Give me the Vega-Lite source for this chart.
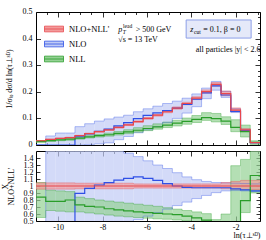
{
  "$schema": "https://vega.github.io/schema/vega-lite/v6.json",
  "padding": {"left": 0, "top": 7, "right": 9, "bottom": 0},
  "spacing": 0,
  "config": {
    "font": "Liberation Serif",
    "view": {"stroke": "#000", "strokeWidth": 1},
    "axis": {"labelFont": "Liberation Serif", "labelFontSize": 8, "labelColor": "#000", "tickColor": "#000", "tickWidth": 0.8, "domain": false, "grid": false, "titleFont": "Liberation Serif", "titleFontSize": 8, "titleFontWeight": "normal", "titleColor": "#000", "labelOverlap": false, "labelFlush": false},
    "text": {"font": "Liberation Serif", "color": "#000"}
  },
  "data": {"values": [
    {"s":"NLO","b":0,"x0":-11,"x1":-10.5609,"c":0,"lo":0,"hi":0,"rc":0.2,"rlo":0.2,"rhi":0.2},
    {"s":"NLO","b":1,"x0":-10.5609,"x1":-10.1217,"c":0,"lo":-0.03,"hi":0.034,"rc":0.2,"rlo":0.2,"rhi":1.7},
    {"s":"NLO","b":2,"x0":-10.1217,"x1":-9.6826,"c":0,"lo":-0.03,"hi":0.045,"rc":0.2,"rlo":0.2,"rhi":1.7},
    {"s":"NLO","b":3,"x0":-9.6826,"x1":-9.2435,"c":0,"lo":-0.03,"hi":0.045,"rc":0.2,"rlo":0.2,"rhi":1.7},
    {"s":"NLO","b":4,"x0":-9.2435,"x1":-8.8043,"c":0.031,"lo":0,"hi":0.069,"rc":0.895,"rlo":0.2,"rhi":1.7},
    {"s":"NLO","b":5,"x0":-8.8043,"x1":-8.3652,"c":0.042,"lo":0.002,"hi":0.08,"rc":0.966,"rlo":0.2,"rhi":1.7},
    {"s":"NLO","b":6,"x0":-8.3652,"x1":-7.9261,"c":0.051,"lo":0.004,"hi":0.09,"rc":1.014,"rlo":0.2,"rhi":1.7},
    {"s":"NLO","b":7,"x0":-7.9261,"x1":-7.487,"c":0.06,"lo":0.008,"hi":0.098,"rc":1.047,"rlo":0.2,"rhi":1.7},
    {"s":"NLO","b":8,"x0":-7.487,"x1":-7.0478,"c":0.072,"lo":0.02,"hi":0.105,"rc":1.085,"rlo":0.2,"rhi":1.7},
    {"s":"NLO","b":9,"x0":-7.0478,"x1":-6.6087,"c":0.084,"lo":0.032,"hi":0.112,"rc":1.108,"rlo":0.2,"rhi":1.47},
    {"s":"NLO","b":10,"x0":-6.6087,"x1":-6.1696,"c":0.099,"lo":0.046,"hi":0.125,"rc":1.13,"rlo":0.52,"rhi":1.42},
    {"s":"NLO","b":11,"x0":-6.1696,"x1":-5.7304,"c":0.111,"lo":0.057,"hi":0.136,"rc":1.11,"rlo":0.57,"rhi":1.36},
    {"s":"NLO","b":12,"x0":-5.7304,"x1":-5.2913,"c":0.121,"lo":0.069,"hi":0.146,"rc":1.08,"rlo":0.62,"rhi":1.3},
    {"s":"NLO","b":13,"x0":-5.2913,"x1":-4.8522,"c":0.129,"lo":0.084,"hi":0.156,"rc":1.035,"rlo":0.67,"rhi":1.25},
    {"s":"NLO","b":14,"x0":-4.8522,"x1":-4.413,"c":0.139,"lo":0.1,"hi":0.165,"rc":1.0,"rlo":0.72,"rhi":1.19},
    {"s":"NLO","b":15,"x0":-4.413,"x1":-3.9739,"c":0.153,"lo":0.12,"hi":0.176,"rc":0.98,"rlo":0.77,"rhi":1.13},
    {"s":"NLO","b":16,"x0":-3.9739,"x1":-3.5348,"c":0.172,"lo":0.144,"hi":0.192,"rc":0.975,"rlo":0.82,"rhi":1.09},
    {"s":"NLO","b":17,"x0":-3.5348,"x1":-3.0957,"c":0.196,"lo":0.174,"hi":0.214,"rc":0.975,"rlo":0.865,"rhi":1.065},
    {"s":"NLO","b":18,"x0":-3.0957,"x1":-2.6565,"c":0.222,"lo":0.206,"hi":0.239,"rc":0.975,"rlo":0.905,"rhi":1.05},
    {"s":"NLO","b":19,"x0":-2.6565,"x1":-2.2174,"c":0.188,"lo":0.179,"hi":0.202,"rc":0.975,"rlo":0.93,"rhi":1.045},
    {"s":"NLO","b":20,"x0":-2.2174,"x1":-1.7783,"c":0.126,"lo":0.122,"hi":0.136,"rc":0.96,"rlo":0.935,"rhi":1.04},
    {"s":"NLO","b":21,"x0":-1.7783,"x1":-1.3391,"c":0.054,"lo":0.053,"hi":0.059,"rc":0.945,"rlo":0.93,"rhi":1.035},
    {"s":"NLO","b":22,"x0":-1.3391,"x1":-0.9,"c":0.0084,"lo":0.0083,"hi":0.0092,"rc":0.93,"rlo":0.92,"rhi":1.03},
    {"s":"NLL","b":0,"x0":-11,"x1":-10.5609,"c":0.0134,"lo":0.0088,"hi":0.0168,"rc":0.84,"rlo":0.55,"rhi":1.05},
    {"s":"NLL","b":1,"x0":-10.5609,"x1":-10.1217,"c":0.0164,"lo":0.0137,"hi":0.0197,"rc":0.78,"rlo":0.65,"rhi":0.94},
    {"s":"NLL","b":2,"x0":-10.1217,"x1":-9.6826,"c":0.0195,"lo":0.016,"hi":0.0233,"rc":0.78,"rlo":0.64,"rhi":0.93},
    {"s":"NLL","b":3,"x0":-9.6826,"x1":-9.2435,"c":0.0224,"lo":0.0176,"hi":0.0258,"rc":0.8,"rlo":0.63,"rhi":0.92},
    {"s":"NLL","b":4,"x0":-9.2435,"x1":-8.8043,"c":0.0256,"lo":0.022,"hi":0.0294,"rc":0.73,"rlo":0.63,"rhi":0.84},
    {"s":"NLL","b":5,"x0":-8.8043,"x1":-8.3652,"c":0.0305,"lo":0.0264,"hi":0.0353,"rc":0.71,"rlo":0.615,"rhi":0.82},
    {"s":"NLL","b":6,"x0":-8.3652,"x1":-7.9261,"c":0.035,"lo":0.03,"hi":0.04,"rc":0.7,"rlo":0.6,"rhi":0.8},
    {"s":"NLL","b":7,"x0":-7.9261,"x1":-7.487,"c":0.0385,"lo":0.0333,"hi":0.0447,"rc":0.675,"rlo":0.585,"rhi":0.785},
    {"s":"NLL","b":8,"x0":-7.487,"x1":-7.0478,"c":0.0436,"lo":0.0376,"hi":0.0508,"rc":0.66,"rlo":0.57,"rhi":0.77},
    {"s":"NLL","b":9,"x0":-7.0478,"x1":-6.6087,"c":0.049,"lo":0.0426,"hi":0.0574,"rc":0.645,"rlo":0.56,"rhi":0.755},
    {"s":"NLL","b":10,"x0":-6.6087,"x1":-6.1696,"c":0.0554,"lo":0.0484,"hi":0.0651,"rc":0.63,"rlo":0.55,"rhi":0.74},
    {"s":"NLL","b":11,"x0":-6.1696,"x1":-5.7304,"c":0.062,"lo":0.054,"hi":0.0725,"rc":0.62,"rlo":0.54,"rhi":0.725},
    {"s":"NLL","b":12,"x0":-5.7304,"x1":-5.2913,"c":0.068,"lo":0.0594,"hi":0.0795,"rc":0.61,"rlo":0.53,"rhi":0.71},
    {"s":"NLL","b":13,"x0":-5.2913,"x1":-4.8522,"c":0.075,"lo":0.0656,"hi":0.0863,"rc":0.6,"rlo":0.525,"rhi":0.69},
    {"s":"NLL","b":14,"x0":-4.8522,"x1":-4.413,"c":0.082,"lo":0.0716,"hi":0.0931,"rc":0.59,"rlo":0.515,"rhi":0.67},
    {"s":"NLL","b":15,"x0":-4.413,"x1":-3.9739,"c":0.089,"lo":0.078,"hi":0.1014,"rc":0.57,"rlo":0.5,"rhi":0.65},
    {"s":"NLL","b":16,"x0":-3.9739,"x1":-3.5348,"c":0.096,"lo":0.0845,"hi":0.1109,"rc":0.545,"rlo":0.48,"rhi":0.63},
    {"s":"NLL","b":17,"x0":-3.5348,"x1":-3.0957,"c":0.103,"lo":0.0925,"hi":0.1216,"rc":0.512,"rlo":0.46,"rhi":0.605},
    {"s":"NLL","b":18,"x0":-3.0957,"x1":-2.6565,"c":0.099,"lo":0.0866,"hi":0.1186,"rc":0.45,"rlo":0.38,"rhi":0.52},
    {"s":"NLL","b":19,"x0":-2.6565,"x1":-2.2174,"c":0.09,"lo":0.0772,"hi":0.1062,"rc":0.46,"rlo":0.4,"rhi":0.6},
    {"s":"NLL","b":20,"x0":-2.2174,"x1":-1.7783,"c":0.066,"lo":0.05,"hi":0.095,"rc":0.48,"rlo":0.35,"rhi":1.29},
    {"s":"NLL","b":21,"x0":-1.7783,"x1":-1.3391,"c":0.05,"lo":0.03,"hi":0.075,"rc":0.79,"rlo":0.62,"rhi":1.38},
    {"s":"NLL","b":22,"x0":-1.3391,"x1":-0.9,"c":0.0095,"lo":0.002,"hi":0.016,"rc":1.15,"rlo":0.9,"rhi":1.7},
    {"s":"NLO+NLL'","b":0,"x0":-11,"x1":-10.5609,"c":0.016,"lo":0.0153,"hi":0.0167,"rc":1,"rlo":0.955,"rhi":1.045},
    {"s":"NLO+NLL'","b":1,"x0":-10.5609,"x1":-10.1217,"c":0.021,"lo":0.0201,"hi":0.0219,"rc":1,"rlo":0.955,"rhi":1.045},
    {"s":"NLO+NLL'","b":2,"x0":-10.1217,"x1":-9.6826,"c":0.025,"lo":0.0239,"hi":0.0261,"rc":1,"rlo":0.955,"rhi":1.045},
    {"s":"NLO+NLL'","b":3,"x0":-9.6826,"x1":-9.2435,"c":0.028,"lo":0.0267,"hi":0.0293,"rc":1,"rlo":0.955,"rhi":1.045},
    {"s":"NLO+NLL'","b":4,"x0":-9.2435,"x1":-8.8043,"c":0.035,"lo":0.0336,"hi":0.0364,"rc":1,"rlo":0.96,"rhi":1.04},
    {"s":"NLO+NLL'","b":5,"x0":-8.8043,"x1":-8.3652,"c":0.043,"lo":0.0413,"hi":0.0447,"rc":1,"rlo":0.96,"rhi":1.04},
    {"s":"NLO+NLL'","b":6,"x0":-8.3652,"x1":-7.9261,"c":0.05,"lo":0.048,"hi":0.052,"rc":1,"rlo":0.96,"rhi":1.04},
    {"s":"NLO+NLL'","b":7,"x0":-7.9261,"x1":-7.487,"c":0.057,"lo":0.0547,"hi":0.0593,"rc":1,"rlo":0.96,"rhi":1.04},
    {"s":"NLO+NLL'","b":8,"x0":-7.487,"x1":-7.0478,"c":0.066,"lo":0.0634,"hi":0.0686,"rc":1,"rlo":0.96,"rhi":1.04},
    {"s":"NLO+NLL'","b":9,"x0":-7.0478,"x1":-6.6087,"c":0.076,"lo":0.073,"hi":0.079,"rc":1,"rlo":0.96,"rhi":1.04},
    {"s":"NLO+NLL'","b":10,"x0":-6.6087,"x1":-6.1696,"c":0.088,"lo":0.0854,"hi":0.0906,"rc":1,"rlo":0.97,"rhi":1.03},
    {"s":"NLO+NLL'","b":11,"x0":-6.1696,"x1":-5.7304,"c":0.1,"lo":0.097,"hi":0.103,"rc":1,"rlo":0.97,"rhi":1.03},
    {"s":"NLO+NLL'","b":12,"x0":-5.7304,"x1":-5.2913,"c":0.112,"lo":0.1086,"hi":0.1154,"rc":1,"rlo":0.97,"rhi":1.03},
    {"s":"NLO+NLL'","b":13,"x0":-5.2913,"x1":-4.8522,"c":0.125,"lo":0.1213,"hi":0.1288,"rc":1,"rlo":0.97,"rhi":1.03},
    {"s":"NLO+NLL'","b":14,"x0":-4.8522,"x1":-4.413,"c":0.139,"lo":0.1348,"hi":0.1432,"rc":1,"rlo":0.97,"rhi":1.03},
    {"s":"NLO+NLL'","b":15,"x0":-4.413,"x1":-3.9739,"c":0.156,"lo":0.1513,"hi":0.1607,"rc":1,"rlo":0.97,"rhi":1.03},
    {"s":"NLO+NLL'","b":16,"x0":-3.9739,"x1":-3.5348,"c":0.176,"lo":0.1707,"hi":0.1813,"rc":1,"rlo":0.97,"rhi":1.03},
    {"s":"NLO+NLL'","b":17,"x0":-3.5348,"x1":-3.0957,"c":0.201,"lo":0.195,"hi":0.207,"rc":1,"rlo":0.97,"rhi":1.03},
    {"s":"NLO+NLL'","b":18,"x0":-3.0957,"x1":-2.6565,"c":0.228,"lo":0.2212,"hi":0.2348,"rc":1,"rlo":0.97,"rhi":1.03},
    {"s":"NLO+NLL'","b":19,"x0":-2.6565,"x1":-2.2174,"c":0.193,"lo":0.1853,"hi":0.2027,"rc":1,"rlo":0.96,"rhi":1.05},
    {"s":"NLO+NLL'","b":20,"x0":-2.2174,"x1":-1.7783,"c":0.131,"lo":0.1251,"hi":0.1395,"rc":1,"rlo":0.955,"rhi":1.065},
    {"s":"NLO+NLL'","b":21,"x0":-1.7783,"x1":-1.3391,"c":0.057,"lo":0.0542,"hi":0.0616,"rc":1,"rlo":0.95,"rhi":1.08},
    {"s":"NLO+NLL'","b":22,"x0":-1.3391,"x1":-0.9,"c":0.009,"lo":0.0086,"hi":0.0097,"rc":1,"rlo":0.95,"rhi":1.08}
  ]},
  "vconcat": [
    {
      "width": 224, "height": 133,
      "resolve": {"axis": {"x": "independent", "y": "independent"}},
      "layer": [
        {
          "resolve": {"axis": {"x": "independent", "y": "independent"}},
          "layer": [
            {
              "mark": {"type": "rect", "clip": true, "fillOpacity": 0.7, "strokeWidth": 0},
              "encoding": {
                "x": {"field": "x0", "type": "quantitative", "scale": {"domain": [-11, -0.9], "nice": false, "zero": false},
                      "axis": {"orient": "bottom", "values": [-10.5,-10,-9.5,-9,-8.5,-8,-7.5,-7,-6.5,-6,-5.5,-5,-4.5,-4,-3.5,-3,-2.5,-2,-1.5,-1], "labels": false, "title": null,
                               "tickSize": {"condition": {"test": "abs(datum.value/2 - round(datum.value/2)) < 0.001", "value": -5}, "value": -2.5}}},
                "x2": {"field": "x1"},
                "y": {"field": "lo", "type": "quantitative", "scale": {"domain": [0, 0.5], "nice": false, "zero": false},
                      "axis": {"orient": "right", "values": [0,0.02,0.04,0.06,0.08,0.1,0.12,0.14,0.16,0.18,0.2,0.22,0.24,0.26,0.28,0.3,0.32,0.34,0.36,0.38,0.4,0.42,0.44,0.46,0.48,0.5], "labels": false, "title": null,
                               "tickSize": {"condition": {"test": "abs(datum.value*10 - round(datum.value*10)) < 0.001", "value": -5}, "value": -2.5}}},
                "y2": {"field": "hi"},
                "fill": {"field": "s", "type": "nominal", "scale": {"domain": ["NLO+NLL'", "NLO", "NLL"], "range": ["#f29b9b", "#c0cbf5", "#94d194"]},
                         "legend": {"title": null, "orient": "none", "legendX": 8, "legendY": 7, "symbolType": "M-1,-0.3H1V0.3H-1Z M-1,0H1", "symbolSize": 361, "labelFontSize": 8.5, "labelFont": "Liberation Serif", "labelOffset": 5, "rowPadding": -2.5, "symbolStrokeWidth": 0.8}}
              }
            },
            {
              "transform": [{"fold": ["x0", "x1"], "as": ["edge", "xe"]}],
              "mark": {"type": "line", "clip": true, "strokeWidth": 0.8, "strokeOpacity": 0.45},
              "encoding": {
                "x": {"field": "xe", "type": "quantitative", "scale": {"domain": [-11, -0.9], "nice": false, "zero": false}, "axis": null},
                "y": {"field": "hi", "type": "quantitative", "scale": {"domain": [0, 0.5], "nice": false, "zero": false}, "axis": null},
                "stroke": {"field": "s", "type": "nominal", "scale": {"domain": ["NLO+NLL'", "NLO", "NLL"], "range": ["#e8474d", "#2f50e6", "#2a9d2a"]},
                           "legend": {"title": null, "orient": "none", "legendX": 8, "legendY": 7, "symbolType": "M-1,-0.3H1V0.3H-1Z M-1,0H1", "symbolSize": 361, "labelFontSize": 8.5, "labelFont": "Liberation Serif", "labelOffset": 5, "rowPadding": -2.5, "symbolStrokeWidth": 0.8}},
                "order": [{"field": "b", "type": "quantitative"}, {"field": "edge", "type": "nominal"}]
              }
            },
            {
              "transform": [{"fold": ["x0", "x1"], "as": ["edge", "xe"]}],
              "mark": {"type": "line", "clip": true, "strokeWidth": 0.8, "strokeOpacity": 0.45},
              "encoding": {
                "x": {"field": "xe", "type": "quantitative", "scale": {"domain": [-11, -0.9], "nice": false, "zero": false}, "axis": null},
                "y": {"field": "lo", "type": "quantitative", "scale": {"domain": [0, 0.5], "nice": false, "zero": false}, "axis": null},
                "stroke": {"field": "s", "type": "nominal", "scale": {"domain": ["NLO+NLL'", "NLO", "NLL"], "range": ["#e8474d", "#2f50e6", "#2a9d2a"]},
                           "legend": {"title": null, "orient": "none", "legendX": 8, "legendY": 7, "symbolType": "M-1,-0.3H1V0.3H-1Z M-1,0H1", "symbolSize": 361, "labelFontSize": 8.5, "labelFont": "Liberation Serif", "labelOffset": 5, "rowPadding": -2.5, "symbolStrokeWidth": 0.8}},
                "order": [{"field": "b", "type": "quantitative"}, {"field": "edge", "type": "nominal"}]
              }
            },
            {
              "transform": [{"fold": ["x0", "x1"], "as": ["edge", "xe"]}],
              "mark": {"type": "line", "clip": true, "strokeWidth": 1.2},
              "encoding": {
                "x": {"field": "xe", "type": "quantitative", "scale": {"domain": [-11, -0.9], "nice": false, "zero": false},
                      "axis": {"orient": "top", "values": [-10.5,-10,-9.5,-9,-8.5,-8,-7.5,-7,-6.5,-6,-5.5,-5,-4.5,-4,-3.5,-3,-2.5,-2,-1.5,-1], "labels": false, "title": null,
                               "tickSize": {"condition": {"test": "abs(datum.value/2 - round(datum.value/2)) < 0.001", "value": -5}, "value": -2.5}}},
                "y": {"field": "c", "type": "quantitative", "scale": {"domain": [0, 0.5], "nice": false, "zero": false},
                      "axis": {"orient": "left", "values": [0, 0.1, 0.2, 0.3, 0.4, 0.5], "labels": false, "tickSize": -4.5,
                               "title": "1/σₗₒ dσ/d ln(τ⊥ˢᴰ)", "titleX": -23}},
                "stroke": {"field": "s", "type": "nominal", "scale": {"domain": ["NLO+NLL'", "NLO", "NLL"], "range": ["#e8474d", "#2f50e6", "#2a9d2a"]},
                           "legend": {"title": null, "orient": "none", "legendX": 8, "legendY": 7, "symbolType": "M-1,-0.3H1V0.3H-1Z M-1,0H1", "symbolSize": 361, "labelFontSize": 8.5, "labelFont": "Liberation Serif", "labelOffset": 5, "rowPadding": -2.5, "symbolStrokeWidth": 0.8}},
                "order": [{"field": "b", "type": "quantitative"}, {"field": "edge", "type": "nominal"}]
              }
            }
          ]
        },
        {
          "layer": [
            {
              "data": {"values": [{"v": 0}, {"v": 0.1}, {"v": 0.2}, {"v": 0.3}, {"v": 0.4}, {"v": 0.5}]},
              "mark": {"type": "text", "align": "right", "baseline": "middle", "fontSize": 8, "dx": -3.5},
              "encoding": {"x": {"datum": -11, "type": "quantitative", "axis": null}, "y": {"field": "v", "type": "quantitative", "axis": null}, "text": {"field": "v", "type": "quantitative", "format": ".1~f"}}
            },
            {
              "data": {"values": [{"t": "p"}]},
              "mark": {"type": "text", "align": "left", "baseline": "alphabetic", "fontSize": 8, "fontStyle": "italic"},
              "encoding": {"x": {"datum": -7.29, "type": "quantitative", "axis": null}, "y": {"datum": 0.425, "type": "quantitative", "axis": null}, "text": {"field": "t"}}
            },
            {
              "data": {"values": [{"t": "lead"}]},
              "mark": {"type": "text", "align": "left", "baseline": "alphabetic", "fontSize": 5.5, "dx": 4.8, "dy": -4},
              "encoding": {"x": {"datum": -7.29, "type": "quantitative", "axis": null}, "y": {"datum": 0.425, "type": "quantitative", "axis": null}, "text": {"field": "t"}}
            },
            {
              "data": {"values": [{"t": "T"}]},
              "mark": {"type": "text", "align": "left", "baseline": "alphabetic", "fontSize": 5.5, "fontStyle": "italic", "dx": 4.5, "dy": 2},
              "encoding": {"x": {"datum": -7.29, "type": "quantitative", "axis": null}, "y": {"datum": 0.425, "type": "quantitative", "axis": null}, "text": {"field": "t"}}
            },
            {
              "data": {"values": [{"t": "> 500 GeV"}]},
              "mark": {"type": "text", "align": "left", "baseline": "alphabetic", "fontSize": 8, "dx": 17.5},
              "encoding": {"x": {"datum": -7.29, "type": "quantitative", "axis": null}, "y": {"datum": 0.425, "type": "quantitative", "axis": null}, "text": {"field": "t"}}
            },
            {
              "data": {"values": [{"t": "√s = 13 TeV"}]},
              "mark": {"type": "text", "align": "left", "baseline": "alphabetic", "fontSize": 8},
              "encoding": {"x": {"datum": -7.29, "type": "quantitative", "axis": null}, "y": {"datum": 0.387, "type": "quantitative", "axis": null}, "text": {"field": "t"}}
            },
            {
              "data": {"values": [{"t": "box"}]},
              "mark": {"type": "rect", "fill": "#e5e9f9", "stroke": "#8c9fe8", "strokeWidth": 1},
              "encoding": {"x": {"datum": -4.23, "type": "quantitative", "axis": null}, "x2": {"datum": -1.3}, "y": {"datum": 0.402, "type": "quantitative", "axis": null}, "y2": {"datum": 0.47}}
            },
            {
              "data": {"values": [{"t": "z"}]},
              "mark": {"type": "text", "align": "left", "baseline": "alphabetic", "fontSize": 8, "fontStyle": "italic"},
              "encoding": {"x": {"datum": -4.04, "type": "quantitative", "axis": null}, "y": {"datum": 0.425, "type": "quantitative", "axis": null}, "text": {"field": "t"}}
            },
            {
              "data": {"values": [{"t": "cut"}]},
              "mark": {"type": "text", "align": "left", "baseline": "alphabetic", "fontSize": 5.5, "dx": 3.6, "dy": 2},
              "encoding": {"x": {"datum": -4.04, "type": "quantitative", "axis": null}, "y": {"datum": 0.425, "type": "quantitative", "axis": null}, "text": {"field": "t"}}
            },
            {
              "data": {"values": [{"t": "= 0.1, β = 0"}]},
              "mark": {"type": "text", "align": "left", "baseline": "alphabetic", "fontSize": 8, "dx": 13},
              "encoding": {"x": {"datum": -4.04, "type": "quantitative", "axis": null}, "y": {"datum": 0.425, "type": "quantitative", "axis": null}, "text": {"field": "t"}}
            },
            {
              "data": {"values": [{"t": "all particles |y| < 2.6"}]},
              "mark": {"type": "text", "align": "right", "baseline": "alphabetic", "fontSize": 8},
              "encoding": {"x": {"datum": -0.88, "type": "quantitative", "axis": null}, "y": {"datum": 0.35, "type": "quantitative", "axis": null}, "text": {"field": "t"}}
            }
          ]
        }
      ]
    },
    {
      "width": 224, "height": 70,
      "resolve": {"axis": {"x": "independent", "y": "independent"}},
      "layer": [
        {
          "mark": {"type": "rect", "clip": true, "fillOpacity": 0.7, "strokeWidth": 0},
          "encoding": {
            "x": {"field": "x0", "type": "quantitative", "scale": {"domain": [-11, -0.9], "nice": false, "zero": false},
                  "axis": {"orient": "bottom", "values": [-10, -8, -6, -4, -2], "labelExpr": "'-' + abs(datum.value)", "tickSize": -5, "labelPadding": 7,
                           "title": "ln(τ⊥ˢᴰ)", "titleAnchor": "end", "titleAlign": "right", "titleX": 224, "titleY": 10, "titleBaseline": "top"}},
            "x2": {"field": "x1"},
            "y": {"field": "rlo", "type": "quantitative", "scale": {"domain": [0.5, 1.5], "nice": false, "zero": false},
                  "axis": {"orient": "left", "values": [0.5, 0.6, 0.7, 0.8, 0.9, 1, 1.1, 1.2, 1.3, 1.4], "format": ".1~f", "tickSize": -4, "labelPadding": 7,
                           "title": ["X", "NLO+NLL'"], "titleX": -27, "titleLineHeight": 6.5}},
            "y2": {"field": "rhi"},
            "fill": {"field": "s", "type": "nominal", "scale": {"domain": ["NLO+NLL'", "NLO", "NLL"], "range": ["#f29b9b", "#c0cbf5", "#94d194"]},
                     "legend": {"title": null, "orient": "none", "legendX": 8, "legendY": 7, "symbolType": "M-1,-0.3H1V0.3H-1Z M-1,0H1", "symbolSize": 361, "labelFontSize": 8.5, "labelFont": "Liberation Serif", "labelOffset": 5, "rowPadding": -2.5, "symbolStrokeWidth": 0.8}}
          }
        },
        {
          "transform": [{"fold": ["x0", "x1"], "as": ["edge", "xe"]}],
          "mark": {"type": "line", "clip": true, "strokeWidth": 0.8, "strokeOpacity": 0.45},
          "encoding": {
            "x": {"field": "xe", "type": "quantitative", "scale": {"domain": [-11, -0.9], "nice": false, "zero": false}, "axis": null},
            "y": {"field": "rhi", "type": "quantitative", "scale": {"domain": [0.5, 1.5], "nice": false, "zero": false}, "axis": null},
            "stroke": {"field": "s", "type": "nominal", "scale": {"domain": ["NLO+NLL'", "NLO", "NLL"], "range": ["#e8474d", "#2f50e6", "#2a9d2a"]},
                       "legend": {"title": null, "orient": "none", "legendX": 8, "legendY": 7, "symbolType": "M-1,-0.3H1V0.3H-1Z M-1,0H1", "symbolSize": 361, "labelFontSize": 8.5, "labelFont": "Liberation Serif", "labelOffset": 5, "rowPadding": -2.5, "symbolStrokeWidth": 0.8}},
            "order": [{"field": "b", "type": "quantitative"}, {"field": "edge", "type": "nominal"}]
          }
        },
        {
          "transform": [{"fold": ["x0", "x1"], "as": ["edge", "xe"]}],
          "mark": {"type": "line", "clip": true, "strokeWidth": 0.8, "strokeOpacity": 0.45},
          "encoding": {
            "x": {"field": "xe", "type": "quantitative", "scale": {"domain": [-11, -0.9], "nice": false, "zero": false}, "axis": null},
            "y": {"field": "rlo", "type": "quantitative", "scale": {"domain": [0.5, 1.5], "nice": false, "zero": false}, "axis": null},
            "stroke": {"field": "s", "type": "nominal", "scale": {"domain": ["NLO+NLL'", "NLO", "NLL"], "range": ["#e8474d", "#2f50e6", "#2a9d2a"]},
                       "legend": {"title": null, "orient": "none", "legendX": 8, "legendY": 7, "symbolType": "M-1,-0.3H1V0.3H-1Z M-1,0H1", "symbolSize": 361, "labelFontSize": 8.5, "labelFont": "Liberation Serif", "labelOffset": 5, "rowPadding": -2.5, "symbolStrokeWidth": 0.8}},
            "order": [{"field": "b", "type": "quantitative"}, {"field": "edge", "type": "nominal"}]
          }
        },
        {
          "transform": [{"fold": ["x0", "x1"], "as": ["edge", "xe"]}],
          "mark": {"type": "line", "clip": true, "strokeWidth": 1.2},
          "encoding": {
            "x": {"field": "xe", "type": "quantitative", "scale": {"domain": [-11, -0.9], "nice": false, "zero": false},
                  "axis": {"orient": "top", "values": [-10.5,-10,-9.5,-9,-8.5,-8,-7.5,-7,-6.5,-6,-5.5,-5,-4.5,-4,-3.5,-3,-2.5,-2,-1.5,-1], "labels": false, "title": null,
                           "tickSize": {"condition": {"test": "abs(datum.value/2 - round(datum.value/2)) < 0.001", "value": -5}, "value": -2.5}}},
            "y": {"field": "rc", "type": "quantitative", "scale": {"domain": [0.5, 1.5], "nice": false, "zero": false},
                  "axis": {"orient": "right", "values": [0.5,0.55,0.6,0.65,0.7,0.75,0.8,0.85,0.9,0.95,1,1.05,1.1,1.15,1.2,1.25,1.3,1.35,1.4,1.45,1.5], "labels": false, "title": null,
                           "tickSize": {"condition": {"test": "abs(datum.value*10 - round(datum.value*10)) < 0.001", "value": -4}, "value": -2}}},
            "stroke": {"field": "s", "type": "nominal", "scale": {"domain": ["NLO+NLL'", "NLO", "NLL"], "range": ["#e8474d", "#2f50e6", "#2a9d2a"]},
                       "legend": {"title": null, "orient": "none", "legendX": 8, "legendY": 7, "symbolType": "M-1,-0.3H1V0.3H-1Z M-1,0H1", "symbolSize": 361, "labelFontSize": 8.5, "labelFont": "Liberation Serif", "labelOffset": 5, "rowPadding": -2.5, "symbolStrokeWidth": 0.8}},
            "order": [{"field": "b", "type": "quantitative"}, {"field": "edge", "type": "nominal"}]
          }
        }
      ]
    }
  ]
}
